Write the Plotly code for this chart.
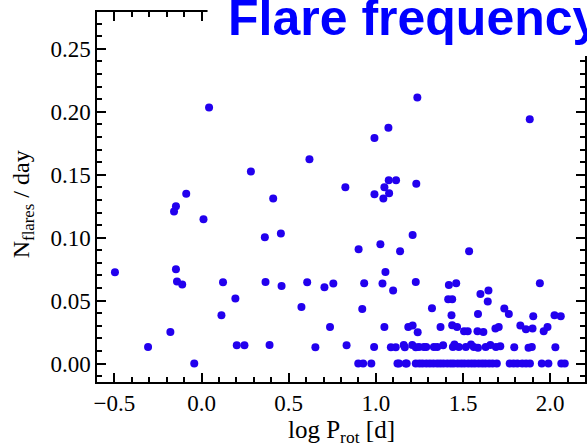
import plotly.graph_objects as go

# ---- data (log P_rot [d], flares per day) ----
x_upper = [0.043, 0.283, -0.088, -0.147, -0.158, 0.011, 1.238, 1.072, 0.992, 0.619,
           1.074, 1.116, 1.049, 1.232, 0.825, 0.992, 1.076, 1.043, 0.411, 0.363,
           0.455, 1.211, 1.883]
y_upper = [0.2035, 0.1526, 0.135, 0.125, 0.1208, 0.1147, 0.2114, 0.1873, 0.1793, 0.1624,
           0.1457, 0.1457, 0.140, 0.1428, 0.1401, 0.1346, 0.1354, 0.1312, 0.1312, 0.1004,
           0.1033, 0.1022, 0.1942]

x_mid = [-0.497, -0.147, -0.141, -0.111, 0.123, 0.194, 0.114, -0.179, -0.307, -0.042,
         0.202, 0.246, 0.901, 1.026, 1.139, 1.055, 0.367, 0.459, 0.606, 0.705,
         0.756, 0.933, 1.038, 1.099, 1.229, 0.573, 0.922, 0.737, 1.049, 1.186,
         1.211, 1.240, 0.390, 0.653, 0.832, 0.990, 1.086, 1.114, 1.160, 1.166,
         1.209, 1.229]
y_mid = [0.0726, 0.075, 0.0652, 0.0628, 0.0646, 0.0517, 0.0384, 0.0251, 0.0132, 0.0,
         0.0145, 0.0145, 0.0909, 0.0948, 0.0893, 0.0728, 0.0649, 0.0617, 0.0646, 0.0607,
         0.0636, 0.0638, 0.0636, 0.058, 0.0649, 0.045, 0.0434, 0.0291, 0.0291, 0.0291,
         0.0302, 0.0249, 0.0148, 0.013, 0.0145, 0.0132, 0.013, 0.013, 0.0148, 0.013,
         0.0148, 0.013]

x_right = [1.535, 1.419, 1.461, 1.941, 1.600, 1.646, 1.642, 1.415, 1.438, 1.322,
           1.737, 1.763, 1.586, 1.434, 1.903, 2.025, 2.061, 1.371, 1.438, 1.466,
           1.506, 1.527, 1.583, 1.617, 1.686, 1.705, 1.829, 1.861, 1.899, 1.963,
           1.985]
y_right = [0.0893, 0.0625, 0.0638, 0.0638, 0.0553, 0.058, 0.0493, 0.0511, 0.0511, 0.044,
           0.0437, 0.0394, 0.0394, 0.0384, 0.0376, 0.0384, 0.0376, 0.0291, 0.0304, 0.0291,
           0.0257, 0.0257, 0.0257, 0.0251, 0.0278, 0.0291, 0.0302, 0.0273, 0.0278, 0.0257,
           0.0291]

x_low = [1.247, 1.276, 1.289, 1.333, 1.352, 1.386, 1.442, 1.451, 1.476, 1.516,
         1.546, 1.562, 1.586, 1.630, 1.657, 1.689, 1.714, 1.794, 1.876, 1.895, 2.030]
y_low = [0.0132, 0.0132, 0.0132, 0.0132, 0.0132, 0.0145, 0.0132, 0.0151, 0.0132, 0.0132,
         0.0151, 0.0132, 0.0127, 0.0132, 0.0148, 0.0132, 0.0138, 0.013, 0.0127, 0.0132, 0.013]

x_zero = [0.899, 0.927, 0.974, 1.124, 1.133, 1.171, 1.177, 1.229, 1.25, 1.268, 1.29, 1.31,
          1.33, 1.352, 1.37, 1.388, 1.41, 1.43, 1.447, 1.47, 1.49, 1.508, 1.53, 1.55,
          1.568, 1.59, 1.61, 1.628, 1.65, 1.67, 1.694, 1.768, 1.79, 1.812, 1.84, 1.862,
          1.884, 1.952, 1.99, 2.064, 2.084]
y_zero = [0.0] * len(x_zero)

x_all = x_upper + x_mid + x_right + x_low + x_zero
y_all = y_upper + y_mid + y_right + y_low + y_zero

title_text = "Flare frequency"
x_title = "log P<sub>rot</sub> [d]"
y_title = "N<sub>flares</sub> / day"

W, H = 587, 446
ML, MR, MT, MB = 97, 0, 12, 64
pw = W - ML - MR
ph = H - MT - MB


def px_to_paper_x(px):
    return (px - ML) / pw


def px_to_paper_y(py):
    return (H - MB - py) / ph


fig = go.Figure()
fig.add_trace(go.Scatter(
    x=x_all, y=y_all, mode="markers",
    marker=dict(size=8, color="#2200ee", line=dict(width=0)),
    showlegend=False, hoverinfo="skip",
))

serif = "Liberation Serif, Times New Roman, serif"
axis_common = dict(
    showgrid=False, zeroline=False, showline=True, linecolor="black", linewidth=1.5,
    mirror="allticks", ticks="inside", ticklen=9, tickwidth=1.5, tickcolor="black",
    tickfont=dict(family=serif, size=23, color="black"),
)
fig.update_xaxes(range=[-0.6, 2.2], tick0=0, dtick=0.5, tickformat=".1f",
                 minor=dict(dtick=0.1, tick0=0, ticks="inside", ticklen=5, tickwidth=1.5,
                            tickcolor="black", showgrid=False),
                 **axis_common)
fig.update_yaxes(range=[-0.0146, 0.2793], tick0=0, dtick=0.05, tickformat=".2f",
                 minor=dict(dtick=0.01, tick0=0, ticks="inside", ticklen=5, tickwidth=1.5,
                            tickcolor="black", showgrid=False),
                 **axis_common)

# white box behind the title, covering the top axis on the right
fig.add_shape(type="rect", xref="paper", yref="paper",
              x0=px_to_paper_x(208), x1=px_to_paper_x(600),
              y0=px_to_paper_y(56), y1=px_to_paper_y(-10),
              fillcolor="white", line=dict(width=0), layer="above")

fig.add_annotation(text=title_text, xref="paper", yref="paper",
                   x=px_to_paper_x(227), y=px_to_paper_y(17.7),
                   xanchor="left", yanchor="middle", showarrow=False,
                   font=dict(family="Liberation Sans, Arial, sans-serif", size=50,
                             color="#0000ff", weight="bold"))

fig.add_annotation(text=x_title, xref="paper", yref="paper",
                   x=0.5, y=px_to_paper_y(431), xanchor="center", yanchor="middle",
                   showarrow=False, font=dict(family=serif, size=25, color="black"))
fig.add_annotation(text=y_title, xref="paper", yref="paper",
                   x=px_to_paper_x(23), y=px_to_paper_y(204), xanchor="center",
                   yanchor="middle", textangle=-90,
                   showarrow=False, font=dict(family=serif, size=24, color="black"))

fig.update_layout(
    width=W, height=H,
    margin=dict(l=ML, r=MR, t=MT, b=MB, pad=0),
    paper_bgcolor="white", plot_bgcolor="white",
)

fig.write_html("out.html")
